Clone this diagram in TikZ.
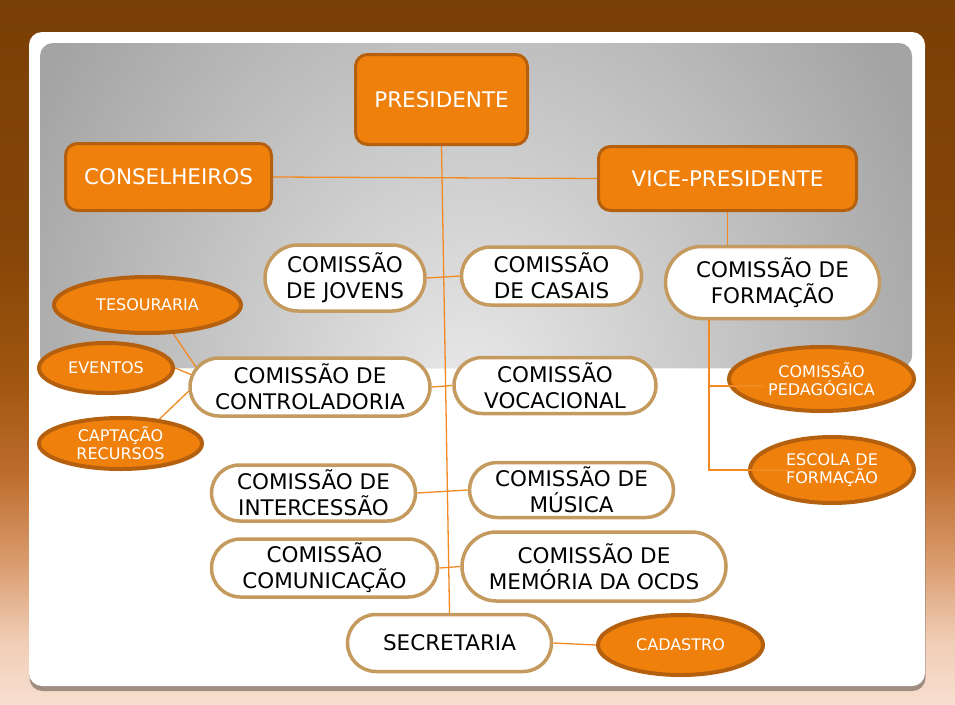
\documentclass[tikz,border=0pt]{standalone}
\usepackage{fontspec}
\setmainfont{DejaVu Sans}
\usetikzlibrary{shapes.geometric, shapes.misc, backgrounds, shadows}

\definecolor{brownTop}{HTML}{7A3F05}
\definecolor{brownDeep}{HTML}{864608}
\definecolor{brownMid}{HTML}{A0560F}
\definecolor{rust}{HTML}{BC6C2C}
\definecolor{peachMid}{HTML}{DA9C6E}
\definecolor{peachLight}{HTML}{F0CDB6}
\definecolor{peach}{HTML}{F8DFD0}
\definecolor{orangeFill}{HTML}{F0800C}
\definecolor{orangeEdge}{HTML}{B5600F}
\definecolor{pillEdge}{HTML}{C49A5E}
\definecolor{linkOrange}{HTML}{F28A24}
\definecolor{panelEdge}{HTML}{A4A4A4}
\definecolor{panelLight}{HTML}{E9E9E9}

% the path is fitted to the middle 50bp of the shading
\pgfdeclareverticalshading{backdrop}{100bp}{%
  color(0bp)=(peach); color(25bp)=(peach); color(29.5bp)=(peachLight);
  color(35bp)=(peachMid); color(41.5bp)=(rust); color(48bp)=(brownMid);
  color(57bp)=(brownDeep); color(75bp)=(brownTop); color(100bp)=(brownTop)}

\newcommand\txtbig{\fontsize{21.5}{26}\selectfont}
\newcommand\txtsmall{\fontsize{16}{18}\selectfont}

\begin{document}
\begin{tikzpicture}[x=1pt, y=-1pt,
    chefe/.style={draw=orangeEdge, fill=orangeFill, line width=3pt,
                  rounded corners=12pt, text=white, font=\txtbig, inner sep=0pt},
    comissao/.style={rounded rectangle, draw=pillEdge, fill=white, line width=3.5pt,
                     font=\txtbig, align=center, inner sep=0pt},
    setor/.style={ellipse, draw=orangeEdge, fill=orangeFill, line width=4pt,
                  text=white, font=\txtsmall, align=center, inner sep=0pt},
    liga/.style={draw=linkOrange, line width=1.3pt}
  ]

  % backdrop, card and grey panel
  \begin{scope}[on background layer]
    \shade[shading=backdrop] (0,0) rectangle (955,704);
    \fill[white, rounded corners=13pt,
          drop shadow={shadow xshift=0.5pt, shadow yshift=-5pt, opacity=0.35, fill=black}]
      (29,32) rectangle (925,686);
    \fill[panelEdge, rounded corners=13pt] (40,43) rectangle (912,368);
    \begin{scope}
      \clip[rounded corners=13pt] (40,43) rectangle (912,368);
      \shade[inner color=panelLight, outer color=panelEdge]
        (470,400) ellipse [x radius=500pt, y radius=600pt];
    \end{scope}
  \end{scope}

  \node[chefe, minimum width=172pt, minimum height=90pt] (pres) at (441.5,99.5) {PRESIDENTE};
  \node[chefe, minimum width=206pt, minimum height=67pt] (cons) at (168.5,177) {CONSELHEIROS};
  \node[chefe, minimum width=258pt, minimum height=64pt] (vice) at (727.5,178.5) {VICE-PRESIDENTE};

  \node[comissao, minimum width=160pt, minimum height=66pt] (jovens) at (345,278) {COMISSÃO\\DE JOVENS};
  \node[comissao, minimum width=180pt, minimum height=58pt] (casais) at (551.5,276) {COMISSÃO\\DE CASAIS};
  \node[comissao, minimum width=214pt, minimum height=72pt] (formacao) at (772.5,282.5) {COMISSÃO DE\\FORMAÇÃO};
  \node[comissao, minimum width=240pt, minimum height=58pt] (contro) at (310,387) {COMISSÃO DE\\CONTROLADORIA};
  \node[comissao, minimum width=202pt, minimum height=56pt] (voca) at (555,385.5) {COMISSÃO\\VOCACIONAL};
  \node[comissao, minimum width=204pt, minimum height=56pt] (inter) at (313.5,493) {COMISSÃO DE\\INTERCESSÃO};
  \node[comissao, minimum width=204pt, minimum height=55pt] (musica) at (571.5,490) {COMISSÃO DE\\MÚSICA};
  \node[comissao, minimum width=226pt, minimum height=58pt] (comun) at (324.5,568) {COMISSÃO\\COMUNICAÇÃO};
  \node[comissao, minimum width=264pt, minimum height=69pt] (memoria) at (594,566.5) {COMISSÃO DE\\MEMÓRIA DA OCDS};
  \node[comissao, minimum width=204pt, minimum height=57pt] (secret) at (449.5,643) {SECRETARIA};

  \node[setor, minimum width=187pt, minimum height=56pt] (tesou) at (147.5,305) {TESOURARIA};
  \node[setor, minimum width=134pt, minimum height=50pt] (eventos) at (106,368) {EVENTOS};
  \node[setor, minimum width=163pt, minimum height=51pt] (captacao) at (120.5,443.5) {CAPTAÇÃO\\RECURSOS};
  \node[setor, minimum width=185pt, minimum height=64pt] (pedag) at (821.5,379) {COMISSÃO\\PEDAGÓGICA};
  \node[setor, minimum width=164pt, minimum height=66pt] (escola) at (832,470) {ESCOLA DE\\FORMAÇÃO};
  \node[setor, minimum width=165pt, minimum height=60pt] (cadastro) at (680.5,645) {CADASTRO};

  \coordinate (fdown) at ([xshift=-63.5pt]formacao.south);

  % connectors
  \begin{scope}[on background layer]
    \draw[liga] (pres.south) -- (secret.north);
    \draw[liga] (cons.east) -- (vice.west);
    \draw[liga] (vice.south) -- (vice.south |- formacao.north);
    \draw[liga] (jovens.east) -- (casais.west);
    \draw[liga] (contro.east) -- (voca.west);
    \draw[liga] (inter.east) -- (musica.west);
    \draw[liga] (comun.east) -- (memoria.west);
    \draw[liga] (secret.east) -- (cadastro.west);
    \draw[liga] (tesou.-48) -- (contro.170);
    \draw[liga] (eventos.east) -- (contro.174);
    \draw[liga] (captacao.32) -- (contro.182);
  \end{scope}
  % these two run over the ellipses
  \draw[liga] (fdown) |- ([xshift=40pt]escola.west);
  \draw[liga] ([xshift=36pt, yshift=-7pt]pedag.west) -| (fdown);

\end{tikzpicture}
\end{document}
